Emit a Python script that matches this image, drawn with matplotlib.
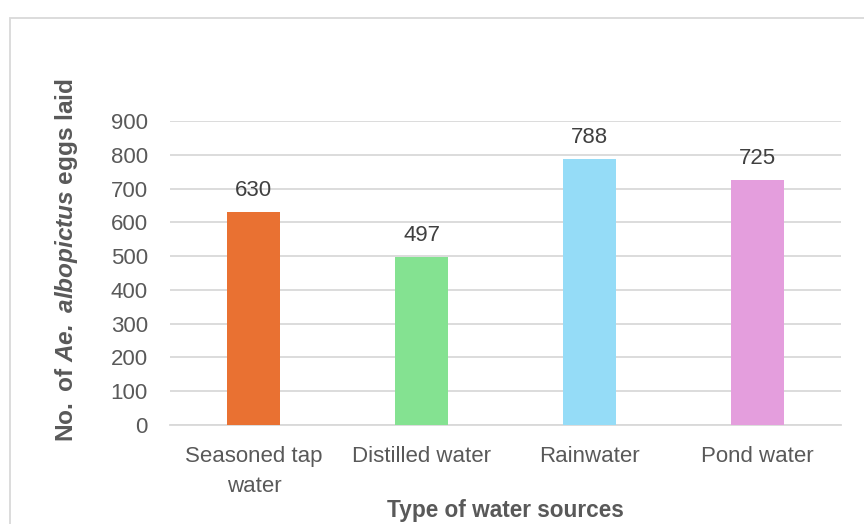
import matplotlib.pyplot as plt
from matplotlib.patches import Rectangle

plt.rcParams['font.family'] = ['Liberation Sans', 'DejaVu Sans']
plt.rcParams['mathtext.fontset'] = 'custom'
plt.rcParams['mathtext.rm'] = 'Liberation Sans'
plt.rcParams['mathtext.bf'] = 'Liberation Sans:bold'
plt.rcParams['mathtext.bfit'] = 'Liberation Sans:bold:italic'

sources = ['Seasoned tap\nwater', 'Distilled water', 'Rainwater', 'Pond water']
eggs = [630, 497, 788, 725]
colors = ['#E97132', '#84E291', '#95DCF7', '#E49EDD']

W, H = 864, 524
fig = plt.figure(figsize=(W / 100, H / 100), dpi=100)
ax = fig.add_axes([170 / W, 1 - 425 / H, 671 / W, 304 / H])

# chart-area frame (runs off the right and bottom edges)
fig.patches.append(Rectangle((9.5 / W, -0.1), 1.2, 1 - 17.5 / H + 0.1,
                             transform=fig.transFigure, fill=False,
                             edgecolor='#D9D9D9', linewidth=1.3))

x = range(len(sources))
bars = ax.bar(x, eggs, width=0.316, color=colors, zorder=3)
for b, v in zip(bars, eggs):
    ax.annotate(str(v), (b.get_x() + b.get_width() / 2, v),
                xytext=(0, 8), textcoords='offset points',
                ha='center', va='bottom', fontsize=16, color='#404040')

ax.set_xlim(-0.5, len(sources) - 0.5)
ax.set_ylim(0, 900)
ax.set_yticks(range(0, 901, 100))
ax.set_xticks(list(x))
ax.set_xticklabels(sources, linespacing=1.55)
ax.grid(axis='y', color='#D9D9D9', linewidth=1.3, zorder=0)
for s in ['top', 'right', 'left']:
    ax.spines[s].set_visible(False)
ax.spines['bottom'].set_color('#D9D9D9')
ax.spines['bottom'].set_linewidth(1.3)
ax.tick_params(length=0, colors='#595959', labelsize=16)
ax.tick_params(axis='x', pad=15)
ax.tick_params(axis='y', pad=16)

ax.set_ylabel(r'$\mathbf{No.}\;\mathbf{of}\;\mathbfit{Ae.}\;\mathbfit{albopictus}\;\mathbf{eggs}\;\mathbf{laid}$',
              fontsize=17.6, color='#595959')
ax.yaxis.set_label_coords(-0.134, 0.543)
ax.set_xlabel('Type of water sources', fontsize=16.3, fontweight='bold',
              color='#595959')
ax.xaxis.set_label_coords(0.5, -0.245)

fig.savefig('out.png', dpi=100)
